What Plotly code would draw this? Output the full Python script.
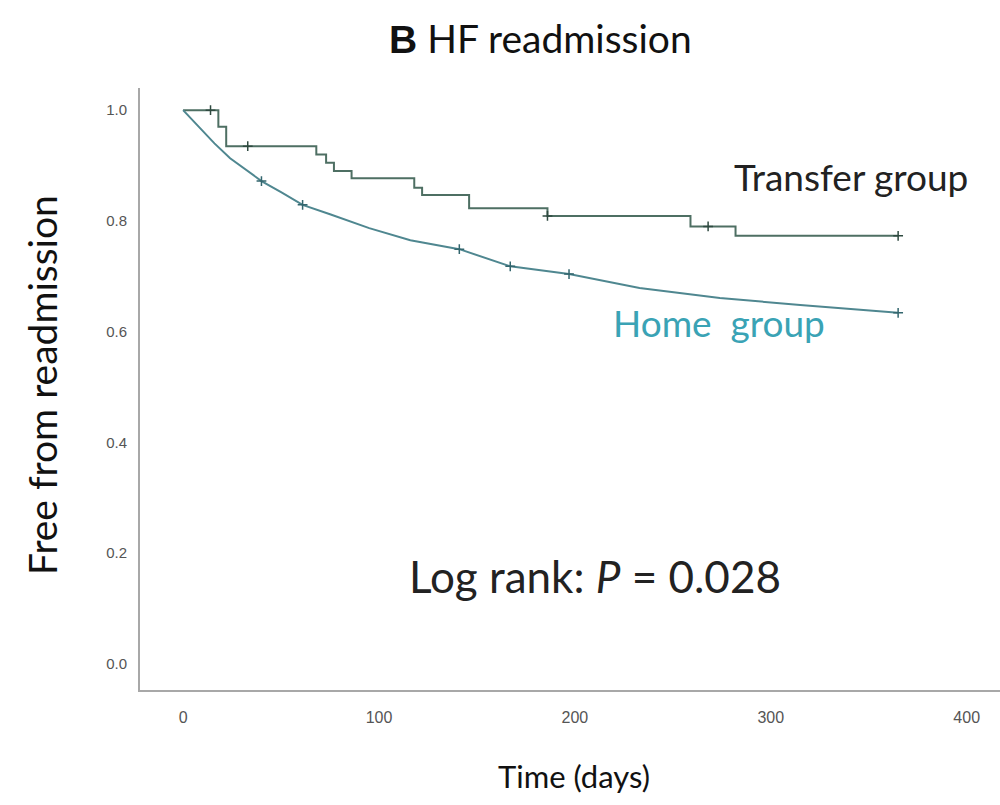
import plotly.graph_objects as go

# Kaplan-Meier estimates: freedom from HF readmission
transfer_days = [0, 15, 18, 22, 68, 73, 77, 86, 118, 122, 146, 186, 259, 282, 365]
transfer_surv = [1.0, 1.0, 0.97, 0.935, 0.92, 0.905, 0.89, 0.877, 0.86, 0.847, 0.823, 0.809, 0.79, 0.773, 0.773]
transfer_cens_days = [14, 33, 186, 268, 365]
transfer_cens_surv = [1.0, 0.935, 0.809, 0.79, 0.773]

home_days = [0, 9, 16, 24, 32, 40, 50, 61, 75, 95, 116, 141, 167, 197, 233, 274, 315, 365]
home_surv = [1.0, 0.967, 0.94, 0.913, 0.892, 0.872, 0.852, 0.829, 0.812, 0.787, 0.765, 0.749, 0.718, 0.704, 0.679, 0.661, 0.648, 0.634]
home_cens_days = [40, 61, 141, 167, 197, 365]
home_cens_surv = [0.872, 0.829, 0.749, 0.718, 0.704, 0.634]

x_ticks = [0, 100, 200, 300, 400]
y_ticks = [0.0, 0.2, 0.4, 0.6, 0.8, 1.0]
y_tick_text = ["0.0", "0.2", "0.4", "0.6", "0.8", "1.0"]

transfer_color = "#4e6f63"
home_color = "#4f8790"
text_font = "Lato"

fig = go.Figure()

fig.add_trace(go.Scatter(
    x=transfer_days, y=transfer_surv, mode="lines", line_shape="hv",
    line=dict(color=transfer_color, width=2), hoverinfo="skip"))
fig.add_trace(go.Scatter(
    x=transfer_cens_days, y=transfer_cens_surv, mode="markers",
    marker=dict(symbol="cross-thin", size=7, line=dict(color="#2f4a40", width=1.5)),
    hoverinfo="skip"))
fig.add_trace(go.Scatter(
    x=home_days, y=home_surv, mode="lines",
    line=dict(color=home_color, width=2), hoverinfo="skip"))
fig.add_trace(go.Scatter(
    x=home_cens_days, y=home_cens_surv, mode="markers",
    marker=dict(symbol="cross-thin", size=7, line=dict(color="#33666e", width=1.5)),
    hoverinfo="skip"))

fig.update_layout(
    width=1000, height=805,
    margin=dict(l=140, r=0, t=88, b=115),
    paper_bgcolor="white", plot_bgcolor="white",
    showlegend=False,
    xaxis=dict(range=[-22, 417], tickvals=x_ticks, showgrid=False, zeroline=False,
               showline=True, linecolor="#a8a8a8", linewidth=2, ticks="",
               ticklabelstandoff=12,
               tickfont=dict(family="Arial", size=16, color="#555555")),
    yaxis=dict(range=[-0.047, 1.04], tickvals=y_ticks, ticktext=y_tick_text,
               showgrid=False, zeroline=False, showline=True, linecolor="#a8a8a8",
               linewidth=2, ticks="", ticklabelstandoff=8,
               tickfont=dict(family="Arial", size=15, color="#555555")),
    annotations=[
        dict(text="<span style='font-family:Arial'><b>B</b></span> HF readmission",
             x=540, y=38, showarrow=False,
             font=dict(family=text_font, size=39, color="#111111")),
        dict(text="Transfer group", x=851, y=176, showarrow=False,
             font=dict(family=text_font, size=37, color="#222222")),
        dict(text="Home&nbsp;&nbsp;group", x=719, y=322, showarrow=False,
             font=dict(family=text_font, size=37, color="#3aa3b5")),
        dict(text="Log rank: <i>P</i> = 0.028", x=595, y=576, showarrow=False,
             font=dict(family=text_font, size=44, color="#222222")),
        dict(text="Time (days)", x=574, y=776, showarrow=False,
             font=dict(family=text_font, size=31, color="#111111")),
        dict(text="Free from readmission", x=42, y=385, showarrow=False, textangle=-90,
             font=dict(family=text_font, size=39, color="#111111")),
    ],
)

# Annotations are given in page pixels; convert to paper coordinates
plot_l, plot_t, plot_w, plot_h = 140, 88, 860, 602
for ann in fig.layout.annotations:
    px, py = ann.x, ann.y
    ann.xref = "paper"
    ann.yref = "paper"
    ann.x = (px - plot_l) / plot_w
    ann.y = 1 - (py - plot_t) / plot_h
    ann.xanchor = "center"
    ann.yanchor = "middle"

fig.write_html("out.html")
